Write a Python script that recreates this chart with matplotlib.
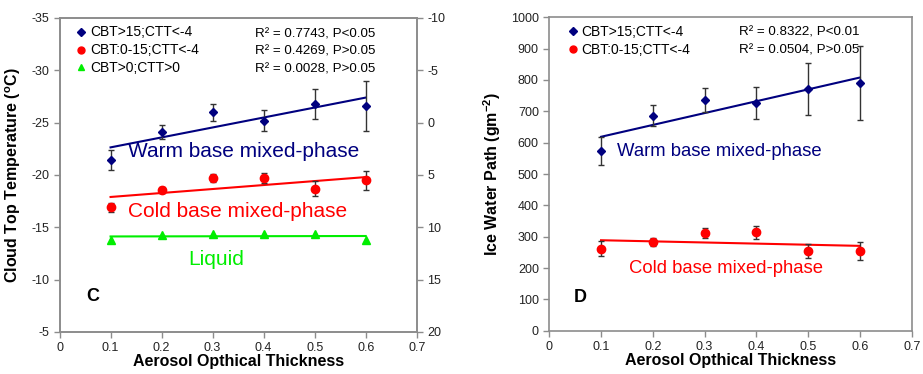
import matplotlib
matplotlib.use("Agg")
import matplotlib.pyplot as plt
import numpy as np
from matplotlib.lines import Line2D

plt.rcParams["font.family"] = ["Liberation Sans", "DejaVu Sans"]
plt.rcParams["axes.unicode_minus"] = False
plt.rcParams["mathtext.fontset"] = "custom"
plt.rcParams["mathtext.rm"] = "Liberation Sans"
plt.rcParams["mathtext.it"] = "Liberation Sans:italic"
plt.rcParams["mathtext.bf"] = "Liberation Sans:bold"

# ============================================================
# Data
# ============================================================
aot = [0.1, 0.2, 0.3, 0.4, 0.5, 0.6]
x_ticks = [0, 0.1, 0.2, 0.3, 0.4, 0.5, 0.6, 0.7]
x_ticklabels = ["0", "0.1", "0.2", "0.3", "0.4", "0.5", "0.6", "0.7"]

# Panel C: cloud top temperature (deg C)
ctt_warm = [-21.4, -24.1, -26.0, -25.2, -26.8, -26.6]
ctt_warm_err = [0.95, 0.65, 0.8, 1.0, 1.45, 2.4]
ctt_cold = [-16.9, -18.6, -19.7, -19.7, -18.7, -19.5]
ctt_cold_err = [0.45, 0.3, 0.4, 0.5, 0.7, 0.9]
ctt_liquid = [11.2, 10.75, 10.65, 10.65, 10.65, 11.2]   # plotted on right axis

left_yticks = [-35, -30, -25, -20, -15, -10, -5]
right_yticks = [-10, -5, 0, 5, 10, 15, 20]

# Panel D: ice water path (g m-2)
iwp_warm = [573, 686, 735, 727, 770, 789]
iwp_warm_err = [44, 34, 38, 51, 83, 118]
iwp_cold = [261, 283, 313, 314, 254, 253]
iwp_cold_err = [24, 13, 16, 20, 23, 29]
iwp_yticks = [0, 100, 200, 300, 400, 500, 600, 700, 800, 900, 1000]

legend_c = ["CBT>15;CTT<-4", "CBT:0-15;CTT<-4", "CBT>0;CTT>0"]
stats_c = ["R² = 0.7743, P<0.05", "R² = 0.4269, P>0.05", "R² = 0.0028, P>0.05"]
legend_d = ["CBT>15;CTT<-4", "CBT:0-15;CTT<-4"]
stats_d = ["R² = 0.8322, P<0.01", "R² = 0.0504, P>0.05"]

NAVY = "#00007f"
RED = "#ff0000"
GREEN = "#00ee00"
ERR = "#333333"
SPINE = "#8c8c8c"


def fit_line(ax, x, y, color):
    k, b = np.polyfit(x, y, 1)
    xs = np.array([x[0], x[-1]])
    ax.plot(xs, k * xs + b, color=color, lw=1.5, zorder=2)


def style_spines(ax):
    for s in ("left", "right", "bottom", "top"):
        ax.spines[s].set_color(SPINE)
        ax.spines[s].set_linewidth(1.2)
    ax.tick_params(colors=SPINE, labelcolor="#222222", labelsize=9, length=4, width=1)


def style_axes(ax):
    style_spines(ax)
    ax.set_xlim(0, 0.7)
    ax.set_xticks(x_ticks)
    ax.set_xticklabels(x_ticklabels)
    ax.set_xlabel("Aerosol Opthical Thickness", fontsize=11.5, fontweight="bold", labelpad=0)


fig = plt.figure(figsize=(9.23, 3.74), dpi=100)

# ============================================================
# Panel C
# ============================================================
ax = fig.add_axes([0.0645, 0.1123, 0.387, 0.8396])
ax2 = ax.twinx()
style_axes(ax)
style_spines(ax2)

ax.set_ylim(-5, -35)
ax.set_yticks(left_yticks)
ax2.set_ylim(20, -10)
ax2.set_yticks(right_yticks)
ax.set_ylabel(r"Cloud Top Temperature ($\mathbf{^o}$C)", fontsize=11.5,
              fontweight="bold", labelpad=6)

ax.errorbar(aot, ctt_warm, yerr=ctt_warm_err, fmt="D", color=NAVY, ms=4.5,
            ecolor=ERR, elinewidth=1, capsize=2.5, zorder=3)
fit_line(ax, aot, ctt_warm, NAVY)
ax.errorbar(aot, ctt_cold, yerr=ctt_cold_err, fmt="o", color=RED, ms=6,
            ecolor=ERR, elinewidth=1, capsize=2.5, zorder=3)
fit_line(ax, aot, ctt_cold, RED)
ax2.plot(aot, ctt_liquid, "^", color=GREEN, ms=6, zorder=3)
fit_line(ax2, aot, ctt_liquid, GREEN)

ax.text(0.134, -22.2, "Warm base mixed-phase", color=NAVY, fontsize=15, va="center")
ax.text(0.134, -16.5, "Cold base mixed-phase", color=RED, fontsize=15, va="center")
ax.text(0.252, -11.9, "Liquid", color=GREEN, fontsize=15, va="center")
ax.text(0.052, -8.35, "C", fontsize=13, fontweight="bold", va="center")

handles = [Line2D([], [], ls="none", marker="D", color=NAVY, ms=4.5),
           Line2D([], [], ls="none", marker="o", color=RED, ms=5),
           Line2D([], [], ls="none", marker="^", color=GREEN, ms=5)]
ax.legend(handles, legend_c, loc="upper left", bbox_to_anchor=(0.04, 0.985),
          frameon=False, fontsize=10, handlelength=0.6, handletextpad=0.35,
          labelspacing=0.28, borderpad=0.2, borderaxespad=0)
for i, s in enumerate(stats_c):
    ax.text(0.547, 0.949 - i * 0.0565, s, transform=ax.transAxes, fontsize=9.6, va="center")

# ============================================================
# Panel D
# ============================================================
axd = fig.add_axes([0.5951, 0.1158, 0.3927, 0.8379])
style_axes(axd)
axd.tick_params(axis="y", right=False)
axd.set_ylim(0, 1000)
axd.set_yticks(iwp_yticks)
axd.set_ylabel(r"Ice Water Path (gm$\mathbf{^{-2}}$)", fontsize=11.5,
               fontweight="bold", labelpad=6)

axd.errorbar(aot, iwp_warm, yerr=iwp_warm_err, fmt="D", color=NAVY, ms=4.5,
             ecolor=ERR, elinewidth=1, capsize=2.5, zorder=3)
fit_line(axd, aot, iwp_warm, NAVY)
axd.errorbar(aot, iwp_cold, yerr=iwp_cold_err, fmt="o", color=RED, ms=6,
             ecolor=ERR, elinewidth=1, capsize=2.5, zorder=3)
fit_line(axd, aot, iwp_cold, RED)

axd.text(0.130, 571, "Warm base mixed-phase", color=NAVY, fontsize=13.3, va="center")
axd.text(0.154, 197, "Cold base mixed-phase", color=RED, fontsize=13.3, va="center")
axd.text(0.048, 105, "D", fontsize=13, fontweight="bold", va="center")

handles = [Line2D([], [], ls="none", marker="D", color=NAVY, ms=4.5),
           Line2D([], [], ls="none", marker="o", color=RED, ms=5)]
axd.legend(handles, legend_d, loc="upper left", bbox_to_anchor=(0.045, 0.985),
           frameon=False, fontsize=10, handlelength=0.6, handletextpad=0.35,
           labelspacing=0.28, borderpad=0.2, borderaxespad=0)
for i, s in enumerate(stats_d):
    axd.text(0.523, 0.95 - i * 0.0565, s, transform=axd.transAxes, fontsize=9.6, va="center")

plt.savefig("out.png", dpi=100)
plt.close()
